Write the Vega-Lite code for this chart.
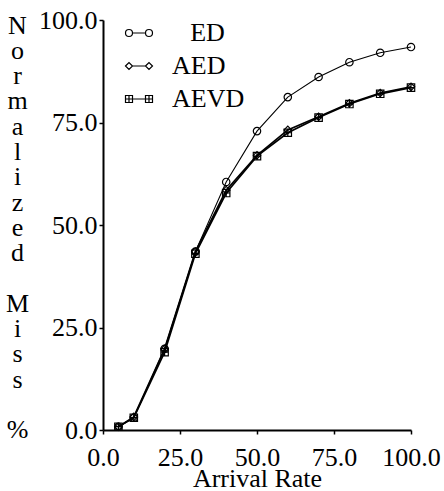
{
  "$schema": "https://vega.github.io/schema/vega-lite/v6.json",
  "width": 308,
  "height": 410,
  "autosize": {"type": "none"},
  "padding": {"left": 103, "top": 20, "right": 33, "bottom": 61},
  "background": "white",
  "config": {
    "view": {"stroke": null},
    "font": "Liberation Serif",
    "axis": {
      "domainColor": "black", "domainWidth": 2, "tickColor": "black", "tickWidth": 1.5, "tickSize": 4,
      "labelFont": "Liberation Serif", "labelFontSize": 26, "labelColor": "black",
      "titleFont": "Liberation Serif", "titleFontSize": 26, "titleColor": "black", "titleFontWeight": "normal",
      "grid": false, "labelOverlap": false, "labelFlush": false
    }
  },
  "data": {"values": [
    {"rate": 5, "miss": 0.8, "alg": "ED"},
    {"rate": 10, "miss": 3.0, "alg": "ED"},
    {"rate": 20, "miss": 19.8, "alg": "ED"},
    {"rate": 30, "miss": 43.5, "alg": "ED"},
    {"rate": 40, "miss": 60.5, "alg": "ED"},
    {"rate": 50, "miss": 72.9, "alg": "ED"},
    {"rate": 60, "miss": 81.2, "alg": "ED"},
    {"rate": 70, "miss": 86.1, "alg": "ED"},
    {"rate": 80, "miss": 89.7, "alg": "ED"},
    {"rate": 90, "miss": 92.0, "alg": "ED"},
    {"rate": 100, "miss": 93.4, "alg": "ED"},
    {"rate": 5, "miss": 0.8, "alg": "AED"},
    {"rate": 10, "miss": 3.2, "alg": "AED"},
    {"rate": 20, "miss": 19.8, "alg": "AED"},
    {"rate": 30, "miss": 43.5, "alg": "AED"},
    {"rate": 40, "miss": 58.5, "alg": "AED"},
    {"rate": 50, "miss": 67.0, "alg": "AED"},
    {"rate": 60, "miss": 73.2, "alg": "AED"},
    {"rate": 70, "miss": 76.4, "alg": "AED"},
    {"rate": 80, "miss": 79.7, "alg": "AED"},
    {"rate": 90, "miss": 82.2, "alg": "AED"},
    {"rate": 100, "miss": 83.7, "alg": "AED"},
    {"rate": 5, "miss": 0.8, "alg": "AEVD"},
    {"rate": 10, "miss": 3.0, "alg": "AEVD"},
    {"rate": 20, "miss": 19.0, "alg": "AEVD"},
    {"rate": 30, "miss": 43.0, "alg": "AEVD"},
    {"rate": 40, "miss": 57.8, "alg": "AEVD"},
    {"rate": 50, "miss": 66.8, "alg": "AEVD"},
    {"rate": 60, "miss": 72.5, "alg": "AEVD"},
    {"rate": 70, "miss": 76.2, "alg": "AEVD"},
    {"rate": 80, "miss": 79.5, "alg": "AEVD"},
    {"rate": 90, "miss": 82.0, "alg": "AEVD"},
    {"rate": 100, "miss": 83.5, "alg": "AEVD"}
  ]},
  "encoding": {
    "x": {"field": "rate", "type": "quantitative",
      "scale": {"domain": [0, 100], "nice": false, "zero": false},
      "axis": {"values": [0, 25, 50, 75, 100], "format": ".1f", "title": "Arrival Rate",
        "labelBaseline": "alphabetic", "labelPadding": 31,
        "titleX": 154, "titleY": 56, "titleBaseline": "alphabetic", "titleAnchor": null}},
    "y": {"field": "miss", "type": "quantitative",
      "scale": {"domain": [0, 100], "nice": false, "zero": false},
      "axis": {"values": [0, 25, 50, 75, 100], "format": ".1f", "labelPadding": 2,
        "title": ["N","o","r","m","a","l","i","z","e","d","\u200b","M","i","s","s","\u200b","%"],
        "titleAngle": 0, "titleAlign": "center", "titleBaseline": "alphabetic",
        "titleLineHeight": 25.3, "titleX": -86, "titleY": 13, "titleAnchor": null}}
  },
  "layer": [
    {
      "mark": {"type": "line", "color": "black"},
      "encoding": {
        "detail": {"field": "alg"},
        "strokeWidth": {"condition": {"test": "datum.alg === 'ED'", "value": 1.1}, "value": 1.7}
      }
    },
    {
      "mark": {"type": "point", "filled": false, "color": "black", "strokeWidth": 1.2, "opacity": 1},
      "encoding": {
        "shape": {"field": "alg", "type": "nominal",
          "scale": {"domain": ["ED", "AED", "AEVD"],
            "range": ["circle", "diamond", "M-1,-1H1V1H-1Z M-1,0H1 M0,-1V1"]},
          "legend": null},
        "size": {"value": 55}
      }
    },
    {
      "transform": [{"filter": "datum.rate < 0"}],
      "mark": {"type": "point", "filled": false, "color": "black", "strokeWidth": 1.2, "opacity": 1},
      "encoding": {
        "shape": {"field": "alg", "type": "nominal",
          "scale": {"domain": ["ED", "AED", "AEVD"],
            "range": [
              "M-2.7,0A0.7,0.7 0 1,1 -1.3,0A0.7,0.7 0 1,1 -2.7,0Z M1.3,0A0.7,0.7 0 1,1 2.7,0A0.7,0.7 0 1,1 1.3,0Z M-1.3,0L1.3,0",
              "M-2.7,0L-2.0,-0.7L-1.3,0L-2.0,0.7Z M1.3,0L2.0,-0.7L2.7,0L2.0,0.7Z M-1.3,0L1.3,0",
              "M-2.7,-0.7H-1.3V0.7H-2.7Z M-2.7,0H-1.3 M-2.0,-0.7V0.7 M1.3,-0.7H2.7V0.7H1.3Z M1.3,0H2.7 M2.0,-0.7V0.7 M-1.3,0L1.3,0"
            ]},
          "legend": {
            "title": null, "orient": "none", "legendX": 23, "legendY": 0,
            "symbolSize": 100, "symbolStrokeColor": "black", "symbolFillColor": "transparent",
            "symbolStrokeWidth": 1.2, "padding": 0,
            "labelFont": "Liberation Serif", "labelFontSize": 26, "labelColor": "black",
            "labelOffset": 20, "rowPadding": 7,
            "labelExpr": "datum.label == 'ED' ? '\u200b\u2002\u2009ED' : datum.label"
          }
        },
        "size": {"value": 55}
      }
    }
  ],
  "resolve": {"scale": {"shape": "independent"}, "legend": {"shape": "independent"}}
}
